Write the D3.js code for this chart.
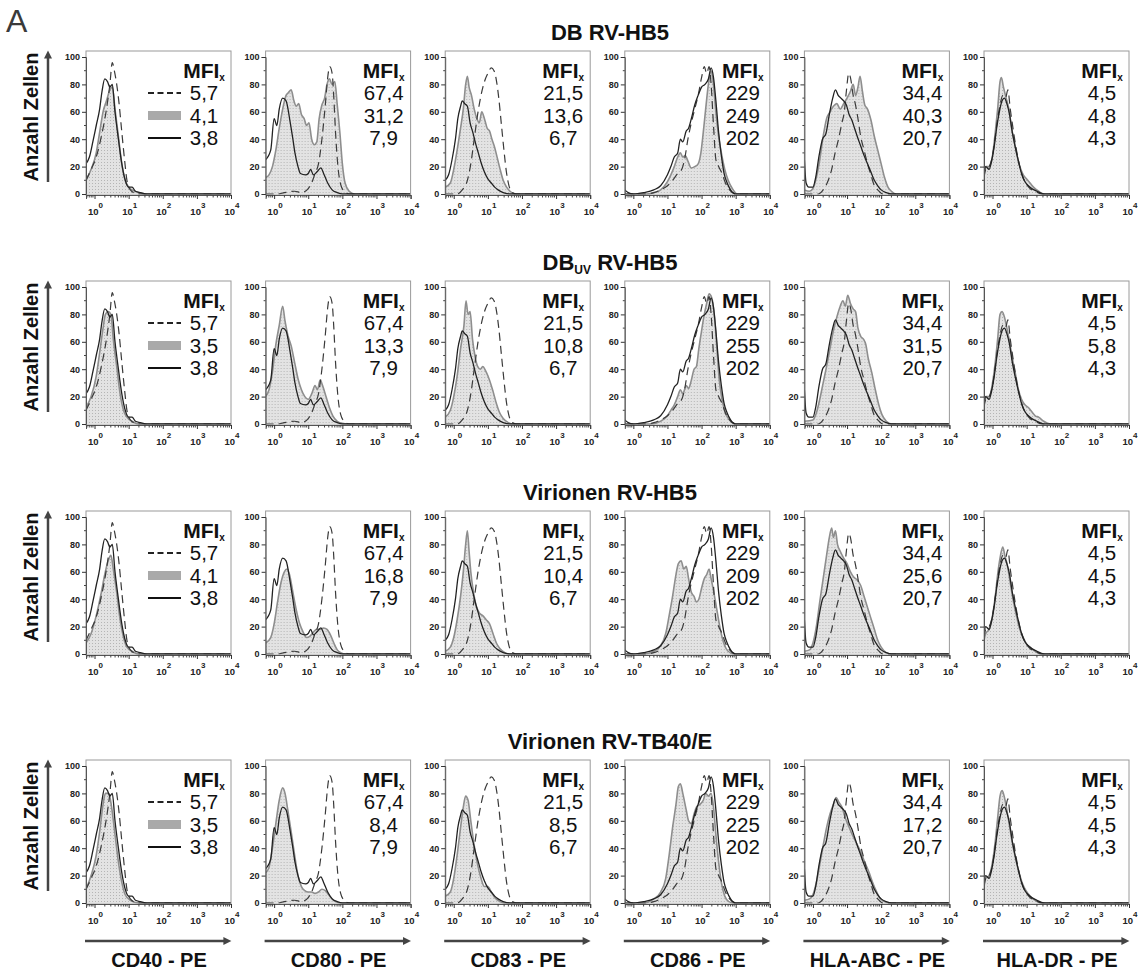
<!DOCTYPE html>
<html>
<head>
<meta charset="utf-8">
<script src="https://cdn.jsdelivr.net/npm/d3@7"></script>
<style>
  body { margin: 0; background: #fff; }
  svg text { font-family: "Liberation Sans", Arial, sans-serif; }
</style>
</head>
<body>
<div id="chart"></div>
<script>
// rows (conditions) and columns (markers)
const rowTitles = ["DB RV-HB5", "DB{UV} RV-HB5", "Virionen RV-HB5", "Virionen RV-TB40/E"];
const markers = ["CD40 - PE", "CD80 - PE", "CD83 - PE", "CD86 - PE", "HLA-ABC - PE", "HLA-DR - PE"];
const yTicks = [0, 20, 40, 60, 80, 100];
const xDecades = [0, 1, 2, 3, 4];

// MFI values (dashed = positive control, solid = negative control, gray = sample per row)
const mfiDashed = ["5,7", "67,4", "21,5", "229", "34,4", "4,5"];
const mfiSolid = ["3,8", "7,9", "6,7", "202", "20,7", "4,3"];
const mfiGray = [
  ["4,1", "31,2", "13,6", "249", "40,3", "4,8"],
  ["3,5", "13,3", "10,8", "255", "31,5", "5,8"],
  ["4,1", "16,8", "10,4", "209", "25,6", "4,5"],
  ["3,5", "8,4", "8,5", "225", "17,2", "4,5"]
];

// histograms: [log10 fluorescence, % of max]
const cd40Dashed = [[-0.25,10],[-0.1,18],[0.05,27],[0.2,42],[0.35,62],[0.45,80],[0.52,96],[0.58,90],[0.65,80],[0.72,66],[0.8,45],[0.88,25],[0.95,10],[1.05,3],[1.2,0.5],[1.4,0],[4,0]];
const cd40Solid = [[-0.25,22],[-0.15,27],[-0.05,38],[0.05,50],[0.15,62],[0.22,75],[0.3,84],[0.38,82],[0.45,78],[0.52,80],[0.6,60],[0.7,40],[0.8,22],[0.9,10],[1.0,5],[1.1,5],[1.2,2],[1.35,1],[1.5,0],[4,0]];
const cd40Gray = [
  [[-0.25,10],[-0.1,18],[0.05,30],[0.15,45],[0.25,60],[0.35,68],[0.45,76],[0.52,78],[0.6,62],[0.7,42],[0.8,22],[0.9,10],[1.0,5],[1.1,3],[1.3,1],[1.5,0],[4,0]],
  [[-0.25,12],[-0.1,20],[0.05,35],[0.15,52],[0.25,70],[0.32,80],[0.4,82],[0.48,80],[0.55,62],[0.65,42],[0.75,22],[0.85,10],[0.95,5],[1.1,2],[1.3,0],[4,0]],
  [[-0.25,8],[-0.1,15],[0.05,28],[0.2,45],[0.3,58],[0.4,68],[0.48,72],[0.55,62],[0.65,45],[0.75,25],[0.85,12],[0.95,5],[1.1,2],[1.3,0],[4,0]],
  [[-0.25,10],[-0.1,20],[0.05,35],[0.15,52],[0.25,72],[0.32,80],[0.42,80],[0.5,70],[0.6,50],[0.7,30],[0.8,15],[0.9,6],[1.05,2],[1.3,0],[4,0]]
];

const cd80Dashed = [[-0.25,0],[0.1,0],[0.3,1],[0.6,2],[0.8,1],[1.0,4],[1.1,8],[1.2,15],[1.3,22],[1.4,40],[1.5,65],[1.57,85],[1.63,93],[1.7,88],[1.75,70],[1.8,45],[1.87,20],[1.95,7],[2.05,2],[2.2,0],[4,0]];
const cd80Solid = [[-0.25,25],[-0.1,32],[0.0,55],[0.08,50],[0.15,62],[0.25,70],[0.35,68],[0.46,54],[0.55,40],[0.61,30],[0.7,20],[0.77,15],[0.92,14],[1.0,15],[1.07,18],[1.15,14],[1.25,16],[1.37,19],[1.45,15],[1.57,8],[1.7,3],[1.85,1],[2.0,0],[4,0]];
const cd80Gray = [
  [[-0.25,12],[-0.15,14],[-0.05,20],[0.05,32],[0.15,48],[0.25,62],[0.35,72],[0.42,74],[0.5,76],[0.58,68],[0.65,64],[0.72,66],[0.8,58],[0.88,55],[0.95,50],[1.02,52],[1.1,40],[1.18,36],[1.25,38],[1.32,55],[1.4,65],[1.48,70],[1.55,80],[1.62,84],[1.7,80],[1.78,82],[1.85,65],[1.93,44],[2.0,22],[2.08,8],[2.2,2],[2.35,0],[4,0]],
  [[-0.25,20],[-0.15,25],[-0.05,38],[0.05,58],[0.15,72],[0.25,86],[0.32,75],[0.4,65],[0.5,57],[0.6,45],[0.7,33],[0.8,25],[0.9,20],[1.0,18],[1.1,22],[1.2,28],[1.27,25],[1.35,32],[1.42,28],[1.52,20],[1.62,12],[1.72,6],[1.85,2],[2.0,0.5],[2.15,0],[4,0]],
  [[-0.25,8],[-0.1,12],[0.0,22],[0.1,38],[0.2,52],[0.3,60],[0.38,62],[0.45,58],[0.55,45],[0.65,32],[0.75,22],[0.85,16],[0.95,12],[1.05,13],[1.15,16],[1.25,18],[1.35,18],[1.45,19],[1.55,18],[1.65,14],[1.75,8],[1.85,3],[1.95,1],[2.1,0],[4,0]],
  [[-0.25,22],[-0.15,26],[-0.05,40],[0.05,58],[0.15,75],[0.25,84],[0.32,80],[0.4,68],[0.5,52],[0.6,35],[0.7,20],[0.8,12],[0.9,9],[1.0,8],[1.1,8],[1.2,7],[1.3,8],[1.4,10],[1.5,9],[1.6,6],[1.7,3],[1.8,1],[1.95,0],[4,0]]
];

const cd83Dashed = [[-0.25,0],[0.1,0],[0.25,3],[0.4,10],[0.5,22],[0.6,40],[0.7,58],[0.8,72],[0.9,82],[1.0,88],[1.1,92],[1.18,90],[1.25,83],[1.32,70],[1.4,50],[1.48,30],[1.55,15],[1.62,6],[1.72,1],[1.85,0],[4,0]];
const cd83Solid = [[-0.25,10],[-0.15,14],[-0.05,25],[0.05,40],[0.12,55],[0.2,64],[0.25,68],[0.32,66],[0.4,64],[0.48,52],[0.56,45],[0.64,37],[0.72,30],[0.8,23],[0.9,16],[1.0,11],[1.1,8],[1.2,5],[1.3,3],[1.45,1],[1.65,0],[4,0]];
const cd83Gray = [
  [[-0.25,5],[-0.1,8],[0.0,18],[0.1,32],[0.2,48],[0.28,62],[0.35,80],[0.4,86],[0.45,78],[0.52,72],[0.6,62],[0.68,55],[0.75,52],[0.82,60],[0.9,55],[0.98,48],[1.05,46],[1.12,40],[1.2,34],[1.28,26],[1.36,18],[1.45,10],[1.55,5],[1.65,2],[1.8,0],[4,0]],
  [[-0.25,5],[-0.1,10],[0.0,20],[0.1,35],[0.2,55],[0.3,72],[0.36,90],[0.42,80],[0.48,82],[0.55,62],[0.62,50],[0.7,42],[0.78,40],[0.85,42],[0.95,38],[1.05,32],[1.15,24],[1.25,15],[1.35,8],[1.45,4],[1.6,1],[1.75,0],[4,0]],
  [[-0.25,2],[-0.1,5],[0.0,12],[0.1,25],[0.2,42],[0.28,60],[0.35,80],[0.4,90],[0.45,75],[0.5,60],[0.58,45],[0.66,35],[0.75,30],[0.85,28],[0.95,25],[1.05,22],[1.15,15],[1.25,8],[1.35,4],[1.5,1],[1.65,0],[4,0]],
  [[-0.25,5],[-0.1,8],[0.0,18],[0.1,35],[0.2,55],[0.28,70],[0.35,78],[0.42,75],[0.5,60],[0.6,42],[0.7,28],[0.8,18],[0.9,12],[1.0,12],[1.1,8],[1.2,4],[1.35,1],[1.5,0],[4,0]]
];

const cd86Dashed = [[-0.25,0],[0.4,0],[0.6,1],[0.8,3],[1.0,6],[1.15,10],[1.3,15],[1.42,18],[1.5,25],[1.6,40],[1.7,52],[1.8,62],[1.9,72],[2.0,85],[2.08,93],[2.15,88],[2.22,93],[2.28,80],[2.35,50],[2.42,25],[2.5,20],[2.6,15],[2.7,8],[2.82,3],[3.0,0],[4,0]];
const cd86Solid = [[-0.25,3],[-0.15,1],[0,0],[0.3,1],[0.6,3],[0.8,6],[1.0,14],[1.1,20],[1.2,27],[1.3,30],[1.38,40],[1.45,38],[1.55,46],[1.62,48],[1.7,55],[1.8,65],[1.9,72],[2.0,78],[2.1,80],[2.2,84],[2.28,92],[2.35,85],[2.42,68],[2.5,45],[2.58,28],[2.66,15],[2.75,8],[2.85,3],[3.0,0],[4,0]];
const cd86Gray = [
  [[-0.25,0],[0.4,0],[0.6,1],[0.8,3],[1.0,9],[1.1,14],[1.2,20],[1.3,27],[1.38,30],[1.45,27],[1.52,28],[1.6,24],[1.7,19],[1.8,20],[1.9,22],[1.98,30],[2.05,45],[2.12,62],[2.2,80],[2.28,90],[2.34,82],[2.42,60],[2.5,42],[2.58,30],[2.68,18],[2.78,10],[2.9,4],[3.05,0],[4,0]],
  [[-0.25,0],[0.5,0],[0.8,2],[1.0,6],[1.1,10],[1.2,14],[1.3,20],[1.38,25],[1.45,22],[1.55,28],[1.62,26],[1.7,32],[1.78,40],[1.85,42],[1.92,55],[2.0,68],[2.08,80],[2.15,88],[2.22,95],[2.3,92],[2.38,78],[2.45,55],[2.52,32],[2.6,18],[2.7,8],[2.82,3],[3.0,0],[4,0]],
  [[-0.25,0],[0.3,0],[0.6,2],[0.8,6],[0.95,15],[1.05,28],[1.15,42],[1.25,58],[1.32,66],[1.4,68],[1.48,62],[1.55,64],[1.62,55],[1.7,45],[1.78,42],[1.85,38],[1.92,40],[2.0,48],[2.08,55],[2.15,58],[2.22,62],[2.28,55],[2.36,45],[2.45,32],[2.55,18],[2.65,8],[2.78,2],[2.95,0],[4,0]],
  [[-0.25,0],[0.3,0],[0.6,3],[0.8,8],[0.95,18],[1.05,35],[1.15,55],[1.25,72],[1.32,85],[1.38,87],[1.45,80],[1.55,68],[1.62,60],[1.7,58],[1.78,65],[1.85,70],[1.95,72],[2.05,75],[2.12,80],[2.2,78],[2.28,80],[2.35,70],[2.42,50],[2.5,30],[2.58,15],[2.68,5],[2.8,1],[2.95,0],[4,0]]
];

const hlaAbcDashed = [[-0.25,0],[0.15,0],[0.3,3],[0.45,10],[0.55,18],[0.65,30],[0.75,40],[0.85,52],[0.92,60],[0.98,75],[1.05,88],[1.1,85],[1.18,72],[1.24,66],[1.32,55],[1.4,42],[1.5,32],[1.6,22],[1.7,14],[1.8,6],[1.9,3],[2.05,0],[4,0]];
const hlaAbcSolid = [[-0.25,25],[-0.2,8],[-0.12,5],[0.0,5],[0.08,12],[0.18,28],[0.28,40],[0.38,44],[0.48,58],[0.58,70],[0.66,76],[0.74,72],[0.82,70],[0.9,68],[0.98,65],[1.06,58],[1.14,54],[1.22,48],[1.3,42],[1.4,35],[1.5,28],[1.6,22],[1.7,16],[1.8,10],[1.9,6],[2.0,3],[2.15,1],[2.3,0],[4,0]];
const hlaAbcGray = [
  [[-0.25,3],[-0.1,2],[0.0,4],[0.1,12],[0.2,25],[0.3,42],[0.4,55],[0.5,60],[0.6,64],[0.7,66],[0.8,62],[0.9,66],[1.0,70],[1.1,75],[1.18,80],[1.25,72],[1.32,78],[1.38,86],[1.45,75],[1.52,65],[1.6,62],[1.7,54],[1.8,42],[1.9,32],[2.0,22],[2.1,12],[2.2,5],[2.3,2],[2.45,0],[4,0]],
  [[-0.25,2],[0.0,3],[0.1,8],[0.2,18],[0.3,30],[0.4,42],[0.5,55],[0.6,68],[0.7,78],[0.8,86],[0.88,90],[0.95,86],[1.02,94],[1.1,88],[1.18,84],[1.25,82],[1.32,70],[1.4,64],[1.48,62],[1.55,58],[1.62,48],[1.72,38],[1.82,26],[1.92,15],[2.02,7],[2.15,2],[2.3,0],[4,0]],
  [[-0.25,2],[-0.1,3],[0.0,8],[0.1,20],[0.2,38],[0.3,55],[0.4,72],[0.48,85],[0.55,92],[0.6,85],[0.66,90],[0.72,80],[0.8,75],[0.9,70],[1.0,66],[1.1,60],[1.2,56],[1.3,54],[1.4,50],[1.5,42],[1.6,34],[1.7,26],[1.8,18],[1.9,10],[2.0,5],[2.15,1],[2.3,0],[4,0]],
  [[-0.25,2],[-0.1,3],[0.0,6],[0.1,15],[0.2,28],[0.3,42],[0.4,55],[0.5,65],[0.6,72],[0.68,77],[0.75,74],[0.85,70],[0.95,62],[1.05,56],[1.15,50],[1.25,45],[1.35,40],[1.45,34],[1.55,28],[1.65,22],[1.75,15],[1.85,9],[1.95,4],[2.1,1],[2.25,0],[4,0]]
];

const hlaDrDashed = [[-0.25,12],[-0.2,18],[-0.1,20],[0.0,28],[0.08,42],[0.15,55],[0.22,65],[0.3,72],[0.38,70],[0.45,76],[0.52,62],[0.6,48],[0.68,35],[0.78,22],[0.88,13],[1.0,7],[1.1,4],[1.25,2],[1.45,0],[4,0]];
const hlaDrSolid = [[-0.25,14],[-0.2,20],[-0.1,18],[-0.02,25],[0.05,35],[0.12,48],[0.2,60],[0.28,68],[0.35,70],[0.42,66],[0.5,58],[0.58,45],[0.66,35],[0.75,25],[0.85,15],[0.95,9],[1.05,6],[1.15,4],[1.3,2],[1.5,0],[4,0]];
const hlaDrGray = [
  [[-0.25,12],[-0.2,20],[-0.1,20],[0.0,28],[0.08,45],[0.15,62],[0.22,82],[0.26,85],[0.32,78],[0.4,70],[0.48,62],[0.56,48],[0.64,38],[0.72,28],[0.8,20],[0.9,14],[1.0,11],[1.1,8],[1.2,5],[1.35,2],[1.5,0],[4,0]],
  [[-0.25,14],[-0.2,20],[-0.1,20],[0.0,30],[0.08,45],[0.15,62],[0.22,80],[0.28,82],[0.35,78],[0.42,70],[0.5,60],[0.58,48],[0.66,38],[0.75,26],[0.85,18],[0.95,14],[1.05,12],[1.15,9],[1.25,6],[1.35,5],[1.5,2],[1.7,0],[4,0]],
  [[-0.25,10],[-0.2,15],[-0.1,18],[0.0,28],[0.08,42],[0.15,58],[0.22,70],[0.3,78],[0.36,72],[0.44,64],[0.52,52],[0.6,40],[0.7,28],[0.8,18],[0.9,12],[1.0,7],[1.1,5],[1.25,2],[1.45,0],[4,0]],
  [[-0.25,12],[-0.2,18],[-0.1,20],[0.0,30],[0.08,45],[0.15,62],[0.22,78],[0.28,82],[0.34,78],[0.42,68],[0.5,56],[0.58,44],[0.68,32],[0.78,22],[0.88,14],[0.98,9],[1.1,5],[1.25,2],[1.45,0],[4,0]]
];

const dashedCurves = [cd40Dashed, cd80Dashed, cd83Dashed, cd86Dashed, hlaAbcDashed, hlaDrDashed];
const solidCurves = [cd40Solid, cd80Solid, cd83Solid, cd86Solid, hlaAbcSolid, hlaDrSolid];
const grayCurves = [cd40Gray, cd80Gray, cd83Gray, cd86Gray, hlaAbcGray, hlaDrGray];

// layout
const width = 1148, height = 974;
const panelW = 145, panelH = 144;
const colLeft = c => 86 + c * 179.6;
const rowTop = [51, 281, 511, 760];
const font = '"Liberation Sans", Arial, sans-serif';

const svg = d3.select("#chart").append("svg")
  .attr("width", width)
  .attr("height", height);

const defs = svg.append("defs");
const pat = defs.append("pattern")
  .attr("id", "stipple")
  .attr("width", 3).attr("height", 3)
  .attr("patternUnits", "userSpaceOnUse");
pat.append("rect").attr("width", 3).attr("height", 3).attr("fill", "#e3e3e3");
pat.append("rect").attr("width", 1).attr("height", 1).attr("fill", "#b5b5b5");

defs.append("clipPath").attr("id", "plotClip")
  .append("rect").attr("x", 0).attr("y", 0).attr("width", panelW).attr("height", panelH);

defs.append("marker")
  .attr("id", "arrow")
  .attr("viewBox", "0 0 10 10")
  .attr("refX", 2).attr("refY", 5)
  .attr("markerWidth", 4).attr("markerHeight", 3.2)
  .attr("orient", "auto")
  .append("path").attr("d", "M0,0 L10,5 L0,10 z").attr("fill", "#444");

svg.append("text")
  .attr("x", 6).attr("y", 32)
  .attr("font-size", 32)
  .attr("fill", "#3a3a3a")
  .text("A");

const x = d3.scaleLinear().domain([-0.25, 4]).range([0, panelW]);
const y = d3.scaleLinear().domain([0, 100]).range([143, 6]);

const area = d3.area()
  .x(d => x(d[0]))
  .y0(y(0))
  .y1(d => y(d[1]))
  .curve(d3.curveMonotoneX);
const line = d3.line()
  .x(d => x(d[0]))
  .y(d => y(d[1]))
  .curve(d3.curveMonotoneX);

const minorX = [];
[0.6, 0.7, 0.8, 0.9].forEach(k => minorX.push(Math.log10(k)));
for (let n = 0; n < 4; n++) {
  for (let k = 2; k <= 9; k++) minorX.push(n + Math.log10(k));
}

function addTitle(r) {
  const parts = rowTitles[r].split(/[{}]/);
  const t = svg.append("text")
    .attr("x", 610).attr("y", rowTop[r] - 11)
    .attr("text-anchor", "middle")
    .attr("font-size", 22)
    .attr("font-weight", "bold")
    .attr("fill", "#111");
  parts.forEach((p, i) => {
    if (!p) return;
    if (i % 2 === 1) {
      t.append("tspan").attr("font-size", 12).attr("dy", 4).text(p);
    } else {
      t.append("tspan").attr("dy", i > 0 ? -4 : 0).text(p);
    }
  });
}

function drawPanel(r, c) {
  const L = colLeft(c), T = rowTop[r];
  const g = svg.append("g").attr("transform", `translate(${L},${T})`);

  const plot = g.append("g").attr("clip-path", "url(#plotClip)");
  plot.append("path")
    .datum(grayCurves[c][r])
    .attr("d", area)
    .attr("fill", "url(#stipple)")
    .attr("stroke", "none");
  plot.append("path")
    .datum(grayCurves[c][r])
    .attr("d", line)
    .attr("fill", "none")
    .attr("stroke", "#8e8e8e")
    .attr("stroke-width", 1.6);
  plot.append("path")
    .datum(dashedCurves[c])
    .attr("d", line)
    .attr("fill", "none")
    .attr("stroke", "#3a3a3a")
    .attr("stroke-width", 1.2)
    .attr("stroke-dasharray", "8,5");
  plot.append("path")
    .datum(solidCurves[c])
    .attr("d", line)
    .attr("fill", "none")
    .attr("stroke", "#222")
    .attr("stroke-width", 1.3);

  // frame
  g.append("rect")
    .attr("x", 0).attr("y", 0)
    .attr("width", panelW).attr("height", panelH)
    .attr("fill", "none")
    .attr("stroke", "#9a9a9a")
    .attr("stroke-width", 1);

  // y axis
  const ya = g.append("g")
    .call(d3.axisLeft(y).tickValues(yTicks).tickSize(4).tickPadding(2));
  ya.select(".domain").attr("stroke", "#555");
  ya.selectAll(".tick line").attr("stroke", "#333");
  ya.selectAll("text")
    .attr("font-family", font)
    .attr("font-size", 9)
    .attr("font-weight", "bold")
    .attr("fill", "#222");
  g.append("g").selectAll("line")
    .data([10, 30, 50, 70, 90])
    .join("line")
    .attr("x1", -2).attr("x2", 0)
    .attr("y1", d => y(d)).attr("y2", d => y(d))
    .attr("stroke", "#444");

  // x axis
  const xa = g.append("g")
    .attr("transform", `translate(0,${panelH})`)
    .call(d3.axisBottom(x).tickValues(xDecades).tickSize(4).tickFormat(""));
  xa.select(".domain").attr("stroke", "#555");
  xa.selectAll(".tick line").attr("stroke", "#333");
  xa.append("g").selectAll("line")
    .data(minorX)
    .join("line")
    .attr("x1", d => x(d)).attr("x2", d => x(d))
    .attr("y1", 0).attr("y2", 2.5)
    .attr("stroke", "#444");
  const lab = g.append("g").selectAll("text")
    .data(xDecades)
    .join("text")
    .attr("x", d => x(d) + 1)
    .attr("y", 164)
    .attr("text-anchor", "middle")
    .attr("font-size", 9.5)
    .attr("font-weight", "bold")
    .attr("fill", "#222");
  lab.append("tspan").text("10");
  lab.append("tspan").attr("dy", -7).attr("font-size", 8).text(d => d);

  // MFI block
  const cx = 118;
  const head = g.append("text")
    .attr("x", cx).attr("y", 27)
    .attr("text-anchor", "middle")
    .attr("font-size", 21)
    .attr("font-weight", "bold")
    .attr("fill", "#111");
  head.append("tspan").text("MFI");
  head.append("tspan").attr("font-size", 10).attr("dy", 3).text("x");

  const vals = [mfiDashed[c], mfiGray[r][c], mfiSolid[c]];
  g.append("g").selectAll("text")
    .data(vals)
    .join("text")
    .attr("x", cx)
    .attr("y", (d, i) => 49 + i * 22.5)
    .attr("text-anchor", "middle")
    .attr("font-size", 20.5)
    .attr("fill", "#111")
    .text(d => d);

  if (c === 0) {
    const leg = g.append("g");
    leg.append("line")
      .attr("x1", 62).attr("x2", 95).attr("y1", 42).attr("y2", 42)
      .attr("stroke", "#222").attr("stroke-width", 2).attr("stroke-dasharray", "6,3.5");
    leg.append("line")
      .attr("x1", 62).attr("x2", 95).attr("y1", 64.5).attr("y2", 64.5)
      .attr("stroke", "#a9a9a9").attr("stroke-width", 9);
    leg.append("line")
      .attr("x1", 62).attr("x2", 95).attr("y1", 87).attr("y2", 87)
      .attr("stroke", "#111").attr("stroke-width", 2);
  }
}

rowTitles.forEach((_, r) => {
  addTitle(r);
  const T = rowTop[r];
  svg.append("line")
    .attr("x1", 48).attr("x2", 48)
    .attr("y1", T + 131).attr("y2", T + 6)
    .attr("stroke", "#444").attr("stroke-width", 2.5)
    .attr("marker-end", "url(#arrow)");
  svg.append("text")
    .attr("transform", `translate(38,${T + 66}) rotate(-90)`)
    .attr("text-anchor", "middle")
    .attr("font-size", 20)
    .attr("font-weight", "bold")
    .attr("fill", "#111")
    .text("Anzahl Zellen");
  markers.forEach((_, c) => drawPanel(r, c));
});

markers.forEach((m, c) => {
  const L = colLeft(c);
  svg.append("line")
    .attr("x1", L - 1).attr("x2", L + panelW - 6)
    .attr("y1", 941).attr("y2", 941)
    .attr("stroke", "#444").attr("stroke-width", 2.5)
    .attr("marker-end", "url(#arrow)");
  svg.append("text")
    .attr("x", L + 73).attr("y", 967)
    .attr("text-anchor", "middle")
    .attr("font-size", 20)
    .attr("font-weight", "bold")
    .attr("fill", "#111")
    .text(m);
});
</script>
</body>
</html>
